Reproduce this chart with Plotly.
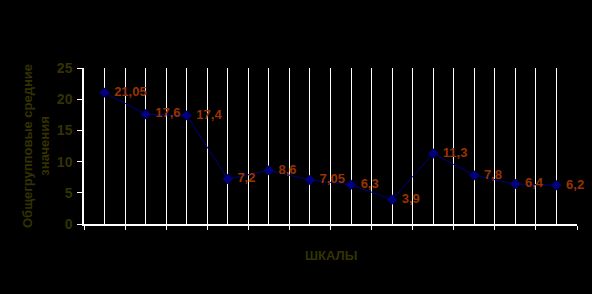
import plotly.graph_objects as go

categories = list(range(1, 13))
values = [21.05, 17.6, 17.4, 7.2, 8.6, 7.05, 6.3, 3.9, 11.3, 7.8, 6.4, 6.2]
labels = ["21,05", "17,6", "17,4", "7,2", "8,6", "7,05", "6,3", "3,9", "11,3", "7,8", "6,4", "6,2"]

olive = "#333300"
brown = "#993300"
navy = "#000080"

fig = go.Figure()
fig.add_trace(go.Scatter(
    x=categories, y=values, mode="lines+markers+text",
    line=dict(color=navy, width=1),
    marker=dict(symbol="diamond", size=8, color=navy),
    text=[" " + t for t in labels], textposition="middle right",
    textfont=dict(family="Liberation Sans, Arial", size=13, color=brown, weight="bold"),
    cliponaxis=False, showlegend=False,
))

L, R, T, B = 84, 15, 68, 70
W, H = 592, 294
fig.update_layout(
    width=W, height=H,
    paper_bgcolor="black", plot_bgcolor="black",
    margin=dict(l=L, r=R, t=T, b=B),
    font=dict(family="Liberation Sans, Arial", color=olive),
    xaxis=dict(
        range=[0.5, 12.5], tick0=0.5, dtick=1, ticks="outside", ticklen=4,
        tickcolor="white", tickwidth=1, showticklabels=False,
        showgrid=True, gridcolor="white", gridwidth=1,
        minor=dict(tick0=0.5, dtick=0.5, showgrid=True, gridcolor="white", gridwidth=1, ticks=""),
        showline=True, linecolor="white", linewidth=1.5, zeroline=False,
    ),
    yaxis=dict(
        range=[0, 25], dtick=5, ticks="outside", ticklen=5, tickcolor="white",
        ticklabelstandoff=2,
        tickfont=dict(family="Liberation Sans, Arial", size=14, color=olive, weight="bold"),
        showgrid=False, showline=True, linecolor="white", linewidth=1.5, zeroline=False,
    ),
)
pw, ph = W - L - R, H - T - B
fig.add_annotation(text="ШКАЛЫ", x=(331 - L) / pw, y=-(265 - (H - B)) / ph,
                   xref="paper", yref="paper", showarrow=False,
                   font=dict(size=13, color=olive, weight="bold"))
fig.add_annotation(text="Общегрупповые средние<br>значения", textangle=-90,
                   x=(36 - L) / pw, y=((H - B) - 146) / ph, xref="paper", yref="paper",
                   xanchor="center", yanchor="middle", showarrow=False,
                   font=dict(size=13, color=olive, weight="bold"))
fig.write_html("out.html")
